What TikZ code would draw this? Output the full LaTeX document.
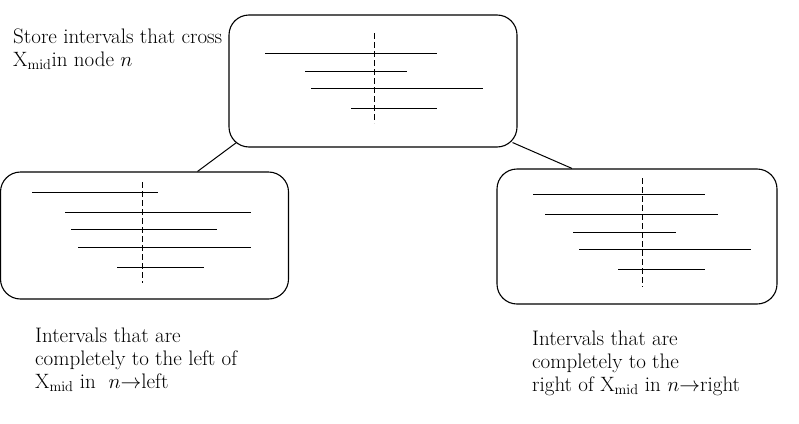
\documentclass[tikz,border=0pt]{standalone}
\usetikzlibrary{calc}
\begin{document}
\begin{tikzpicture}[x=1pt,y=-1pt,
  boxnode/.style={draw,line width=1.1pt,rounded corners=20pt,inner sep=0pt},
  ivl/.style={line width=1pt},
  midline/.style={line width=1pt,dash pattern=on 6pt off 3pt},
  conn/.style={line width=1pt},
  lbl/.style={align=left,inner sep=0pt,anchor=north west,font=\fontsize{21}{23}\selectfont}]
\useasboundingbox (0,0) rectangle (799,423);
% boxes
\node[boxnode,minimum width=288pt,minimum height=132pt] (top) at (373,81) {};
\node[boxnode,minimum width=288pt,minimum height=127pt] (left) at (144.5,235.5) {};
\node[boxnode,minimum width=280pt,minimum height=135pt] (right) at (637,236.5) {};
% connectors
\draw[conn] ($(top.south west)+(8,-5)$) -- ($(left.north)+(53,0)$);
\draw[conn] ($(top.south east)+(-5,-5)$) -- ($(right.north)+(-65,0)$);
% top intervals
\draw[midline] (374,33) -- (374,123);
\draw[ivl] (265,53) -- (437,53);
\draw[ivl] (305,71) -- (407,71);
\draw[ivl] (311,88) -- (483,88);
\draw[ivl] (351,108) -- (437,108);
% left intervals
\draw[midline] (142,182) -- (142,283);
\draw[ivl] (32,192) -- (158,192);
\draw[ivl] (65,212) -- (251,212);
\draw[ivl] (71,229) -- (217,229);
\draw[ivl] (78,247) -- (251,247);
\draw[ivl] (117,267) -- (204,267);
% right intervals
\draw[midline] (642,178) -- (642,287);
\draw[ivl] (533,194) -- (705,194);
\draw[ivl] (545,214) -- (718,214);
\draw[ivl] (573,232) -- (676,232);
\draw[ivl] (579,249) -- (751,249);
\draw[ivl] (618,269) -- (705,269);
% labels
\node[lbl] (ttext) at (13,29) {Store intervals that cross\\$\mathrm{X}_{\mathrm{mid}}$in node $n$};
\node[lbl] (ltext) at (35,328) {Intervals that are\\completely to the left of\\$\mathrm{X}_{\mathrm{mid}}$ in~ $n{\rightarrow}$left};
\node[lbl] (rtext) at (532,331) {Intervals that are\\completely to the\\right of $\mathrm{X}_{\mathrm{mid}}$ in $n{\rightarrow}$right};
\end{tikzpicture}
\end{document}
